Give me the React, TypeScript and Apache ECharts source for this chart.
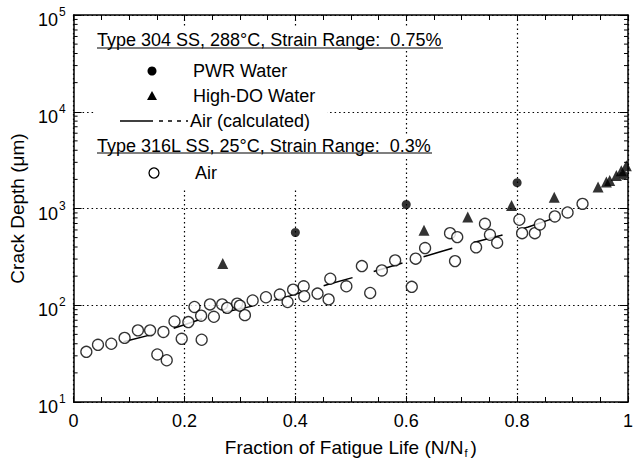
import React, { useEffect, useRef } from "react";
import * as echarts from "echarts";

// Type 316L SS, 25°C, Air (open circles)
const AIR_X = [0.023, 0.044, 0.068, 0.092, 0.116, 0.138, 0.151, 0.162, 0.168, 0.182, 0.195, 0.207, 0.218, 0.23, 0.231, 0.246, 0.253, 0.268, 0.277, 0.295, 0.3, 0.309, 0.323, 0.347, 0.372, 0.386, 0.396, 0.415, 0.416, 0.44, 0.46, 0.463, 0.492, 0.52, 0.535, 0.556, 0.58, 0.61, 0.617, 0.634, 0.679, 0.688, 0.692, 0.726, 0.742, 0.751, 0.764, 0.804, 0.809, 0.832, 0.841, 0.868, 0.891, 0.918];
const AIR_Y = [33, 39, 40, 46, 55, 55, 31, 53, 27, 68, 45, 67, 96, 78, 44, 102, 76, 102, 94, 104, 99, 79, 112, 121, 129, 108, 145, 157, 124, 132, 115, 188, 157, 254, 134, 229, 291, 155, 303, 390, 556, 286, 506, 397, 695, 535, 443, 765, 556, 556, 684, 828, 910, 1117];

// Type 304 SS, PWR water (filled circles)
const PWR_X = [0.4, 0.6, 0.8, 0.992];
const PWR_Y = [565, 1100, 1850, 2200];

// Type 304 SS, High-DO water (triangles)
const HDO_X = [0.269, 0.632, 0.711, 0.79, 0.867, 0.946, 0.961, 0.967, 0.979, 0.988, 0.997];
const HDO_Y = [270, 595, 815, 1075, 1310, 1670, 1880, 1950, 2190, 2450, 2760];

// Air (calculated) curve
const CALC_X = [0.09, 0.16, 0.2, 0.26, 0.33, 0.39, 0.46, 0.52, 0.56, 0.6, 0.66, 0.7, 0.77, 0.82, 0.89];
const CALC_Y = [42, 53, 63, 82, 100, 125, 165, 205, 240, 280, 355, 415, 525, 645, 880];

// axis ticks
const Y_DECADES = [10, 100, 1000, 10000];
const MINOR_MULTS = [2, 3, 4, 5, 6, 7, 8, 9];

const FONT = "'Liberation Sans', Arial, Helvetica, sans-serif";

const zip = (xs: number[], ys: number[]) => xs.map((x, i) => [x, ys[i]]);

export default function App() {
  const ref = useRef<HTMLDivElement>(null);
  useEffect(() => {
    if (!ref.current) return;
    const chart = echarts.init(ref.current, undefined, { renderer: "svg" });
    const minorTicks: number[][] = [];
    Y_DECADES.forEach((d) => MINOR_MULTS.forEach((m) => minorTicks.push([0, d * m])));

    const axisLine = { show: true, onZero: false, lineStyle: { color: "#000", width: 1.5 } };
    const gridLine = { show: true, lineStyle: { color: "#000", type: [1.5, 3], width: 1.2 } };

    const xBase = {
      type: "value",
      min: 0,
      max: 1,
      interval: 0.2,
      axisLine,
      axisTick: { show: true, inside: true, length: 6, lineStyle: { color: "#000", width: 1 } },
      minorTick: { show: true, splitNumber: 4, length: 5, lineStyle: { color: "#000", width: 1 } },
    };
    const yBase = {
      type: "log",
      logBase: 10,
      min: 10,
      max: 100000,
      axisLine,
      axisTick: { show: true, inside: true, length: 8, lineStyle: { color: "#000", width: 1 } },
    };

    const txt = (x: number, y: number, text: string, size = 18) => ({
      type: "text",
      x,
      y,
      z: 51,
      style: {
        text,
        fontSize: size,
        fontFamily: FONT,
        fill: "#000",
        verticalAlign: "middle",
        textVerticalAlign: "middle",
      },
    });
    const hline = (x1: number, x2: number, y: number, w = 1.2, dash?: number[]) => ({
      type: "line",
      z: 51,
      shape: { x1, y1: y, x2, y2: y },
      style: { stroke: "#000", lineWidth: w, lineDash: dash },
    });
    const cover = (x: number, y: number, width: number, height: number) => ({
      type: "rect",
      z: 50,
      shape: { x, y, width, height },
      style: { fill: "#fff", stroke: null },
    });

    chart.setOption({
      animation: false,
      backgroundColor: "#fff",
      grid: { left: 73, right: 4, top: 15, bottom: 66 },
      xAxis: [
        {
          ...xBase,
          position: "bottom",
          axisLabel: { color: "#000", fontSize: 18, fontFamily: FONT, margin: 10 },
          splitLine: gridLine,
          name: "Fraction of Fatigue Life (N/N{s|f})",
          nameLocation: "middle",
          nameGap: 35,
          nameTextStyle: {
            color: "#000",
            fontSize: 19,
            fontFamily: FONT,
            verticalAlign: "top",
            rich: { s: { fontSize: 11, fontFamily: FONT, color: "#000", padding: [10, 3, 0, 1] } },
          },
        },
        {
          ...xBase,
          position: "top",
          axisLabel: { show: false },
          splitLine: { show: false },
        },
      ],
      yAxis: [
        {
          ...yBase,
          position: "left",
          axisLabel: {
            color: "#000",
            margin: 8,
            formatter: (v: number) => `{b|10}{e|${Math.round(Math.log10(v))}}`,
            rich: {
              b: { fontSize: 18, fontFamily: FONT, color: "#000", padding: [10, 0, 0, 0] },
              e: { fontSize: 12, fontFamily: FONT, color: "#000", verticalAlign: "top", padding: [5, 0, 0, 1] },
            },
          },
          splitLine: gridLine,
          name: "Crack Depth (μm)",
          nameLocation: "middle",
          nameGap: 40,
          nameTextStyle: { color: "#000", fontSize: 19, fontFamily: FONT },
        },
        {
          ...yBase,
          position: "right",
          axisLabel: { show: false },
          splitLine: { show: false },
        },
      ],
      series: [
        {
          type: "custom",
          silent: true,
          clip: false,
          z: 1,
          data: minorTicks,
          renderItem: (params: any, api: any) => {
            const cs = params.coordSys;
            const y = api.coord([0, api.value(1)])[1];
            return {
              type: "group",
              children: [
                { type: "line", shape: { x1: cs.x, y1: y, x2: cs.x + 4, y2: y }, style: { stroke: "#000", lineWidth: 1 } },
                { type: "line", shape: { x1: cs.x + cs.width - 4, y1: y, x2: cs.x + cs.width, y2: y }, style: { stroke: "#000", lineWidth: 1 } },
              ],
            };
          },
        },
        {
          name: "Air (calculated)",
          type: "line",
          data: zip(CALC_X, CALC_Y),
          showSymbol: false,
          symbol: "none",
          smooth: false,
          z: 2,
          lineStyle: { color: "#000", width: 1.5, type: [30, 22] },
        },
        {
          name: "Air",
          type: "scatter",
          data: zip(AIR_X, AIR_Y),
          symbol: "circle",
          symbolSize: 11,
          z: 3,
          clip: false,
          itemStyle: { color: "#fff", borderColor: "#000", borderWidth: 1.3 },
        },
        {
          name: "PWR Water",
          type: "scatter",
          data: zip(PWR_X, PWR_Y),
          symbol: "circle",
          symbolSize: 9,
          z: 4,
          clip: false,
          itemStyle: { color: "#000" },
        },
        {
          name: "High-DO Water",
          type: "scatter",
          data: zip(HDO_X, HDO_Y),
          symbol: "triangle",
          symbolSize: 11,
          z: 4,
          clip: false,
          itemStyle: { color: "#000" },
        },
      ],
      graphic: [
        cover(95, 28, 352, 23),
        cover(95, 50, 232, 140),
        cover(327, 136, 108, 22),
        txt(97, 40, "Type 304 SS, 288°C, Strain Range:  0.75%"),
        hline(97, 443, 48),
        { type: "circle", z: 51, shape: { cx: 152, cy: 71, r: 4.5 }, style: { fill: "#000" } },
        txt(193, 71, "PWR Water"),
        { type: "polygon", z: 51, shape: { points: [[147, 100], [157, 100], [152, 91]] }, style: { fill: "#000" } },
        txt(193, 96, "High-DO Water"),
        hline(120, 153, 121, 1.5),
        hline(159, 188, 121, 1.5, [4, 5]),
        txt(190, 121, "Air (calculated)"),
        txt(97, 146, "Type 316L SS, 25°C, Strain Range:  0.3%"),
        hline(97, 432, 153),
        { type: "circle", z: 51, shape: { cx: 154, cy: 173, r: 5 }, style: { fill: "#fff", stroke: "#000", lineWidth: 1.3 } },
        txt(195, 173, "Air"),
      ],
    });
    return () => chart.dispose();
  }, []);
  return <div ref={ref} style={{ width: 636, height: 468, position: "absolute", left: 0, top: 0 }} />;
}
